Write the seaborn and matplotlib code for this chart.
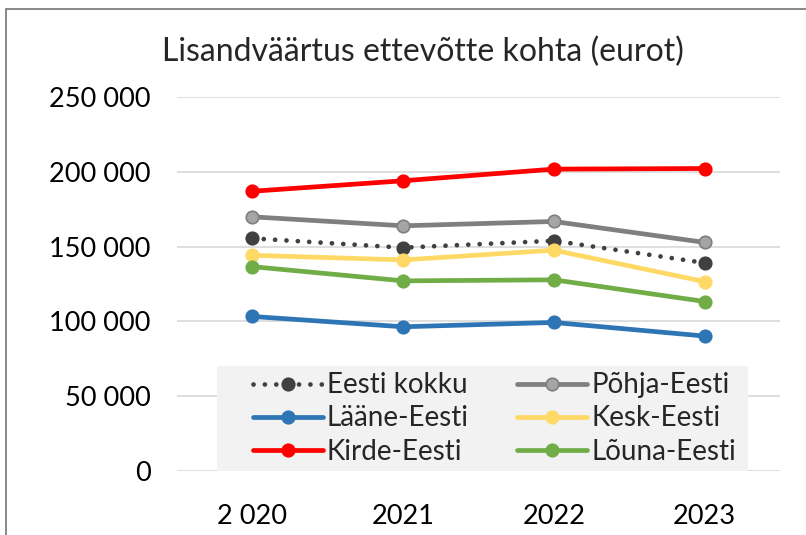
import matplotlib
matplotlib.use("Agg")
import matplotlib.pyplot as plt
import seaborn as sns
import pandas as pd
from matplotlib.patches import Rectangle
from matplotlib.ticker import FuncFormatter

years = ["2 020", "2021", "2022", "2023"]
eesti_kokku = [155500, 149300, 153900, 139100]
pohja_eesti = [169900, 163900, 166800, 152800]
laane_eesti = [103300, 96400, 99300, 90200]
kesk_eesti = [144200, 141100, 147600, 126600]
kirde_eesti = [187000, 194000, 201800, 202200]
louna_eesti = [136600, 127100, 127800, 113300]

series = [
    ("Eesti kokku", eesti_kokku),
    ("Põhja-Eesti", pohja_eesti),
    ("Lääne-Eesti", laane_eesti),
    ("Kesk-Eesti", kesk_eesti),
    ("Kirde-Eesti", kirde_eesti),
    ("Lõuna-Eesti", louna_eesti),
]

styles = {
    "Eesti kokku": dict(color="#404040", ls=(0, (0.01, 2.4)), mfc="#404040", mec="#404040", lw=3.4),
    "Põhja-Eesti": dict(color="#7f7f7f", ls="-", mfc="#a5a5a5", mec="#7f7f7f", lw=3.4),
    "Lääne-Eesti": dict(color="#2e75b6", ls="-", mfc="#2e75b6", mec="#2e75b6", lw=3.4),
    "Kesk-Eesti": dict(color="#ffd966", ls="-", mfc="#ffd966", mec="#ffd966", lw=3.4),
    "Kirde-Eesti": dict(color="#ff0000", ls="-", mfc="#ff0000", mec="#ff0000", lw=3.4),
    "Lõuna-Eesti": dict(color="#70ad47", ls="-", mfc="#70ad47", mec="#70ad47", lw=3.4),
}

sns.set_theme(style="white")
plt.rcParams["font.family"] = ["Lato", "DejaVu Sans"]

fig = plt.figure(figsize=(8.06, 5.35), dpi=100)
ax = fig.add_axes([177/806, 1-471/535, (780-177)/806, (471-97)/535])

frames = []
for name, vals in series:
    frames.append(pd.DataFrame({"year": years, "value": vals, "series": name}))
df = pd.concat(frames, ignore_index=True)

for name, _ in series:
    st = styles[name]
    sub = df[df["series"] == name]
    sns.lineplot(data=sub, x="year", y="value", ax=ax, color=st["color"],
                 linestyle=st["ls"], linewidth=st["lw"], marker="o", markersize=9,
                 markerfacecolor=st["mfc"], markeredgecolor=st["mec"], markeredgewidth=1.2,
                 dash_capstyle="round", sort=False, label=name, zorder=3)

ax.set_xlim(-0.5, 3.5)
ax.set_ylim(0, 250000)
ax.set_yticks([0, 50000, 100000, 150000, 200000, 250000])
ax.yaxis.set_major_formatter(FuncFormatter(lambda v, p: "0" if v == 0 else f"{int(v):,}".replace(",", " ")))
ax.grid(axis="y", color="#d9d9d9", linewidth=1.2)
ax.grid(axis="x", visible=False)
for s in ax.spines.values():
    s.set_visible(False)
ax.tick_params(axis="both", length=0, labelsize=19.5, colors="black")
ax.tick_params(axis="y", pad=19)
ax.tick_params(axis="x", pad=24)
ax.set_xlabel("")
ax.set_ylabel("")
ax.set_axisbelow(True)

# legend background box
bx0 = (217-177)/(780-177)
bw = (748-217)/(780-177)
bh = (471-366)/(471-97)
ax.add_patch(Rectangle((bx0, 0), bw, bh, transform=ax.transAxes, facecolor="#f2f2f2",
                       edgecolor="none", zorder=4))

h, l = ax.get_legend_handles_labels()
hm = dict(zip(l, h))
order = ["Eesti kokku", "Lääne-Eesti", "Kirde-Eesti", "Põhja-Eesti", "Kesk-Eesti", "Lõuna-Eesti"]
leg = ax.legend([hm[o] for o in order], order, ncol=2, loc="center",
                bbox_to_anchor=(bx0 + 12/603, 0, bw, bh), frameon=False, fontsize=20,
                handlelength=2.5, handletextpad=0.15, borderpad=0.0, labelspacing=0.26,
                columnspacing=1.75, borderaxespad=0)
leg.set_zorder(5)

fig.text(423/806, 1-52/535, "Lisandväärtus ettevõtte kohta (eurot)", ha="center", va="center", fontsize=23)

fig.patches.append(Rectangle((6/806, -0.5), 2.0, 0.5 + (1-9/535), transform=fig.transFigure,
                             fill=False, edgecolor="#7f7f7f", linewidth=1.3))

fig.savefig("out.png", dpi=100)
